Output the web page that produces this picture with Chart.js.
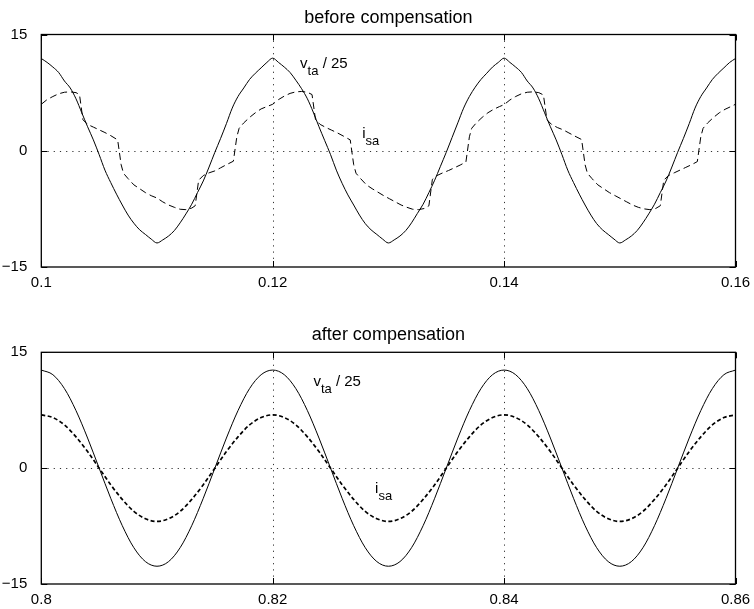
<!DOCTYPE html>
<html>
<head>
<meta charset="utf-8">
<script src="https://cdn.jsdelivr.net/npm/chart.js@4.4.0/dist/chart.umd.min.js"></script>
<style>
  html, body { margin: 0; padding: 0; background: #fff; }
  #wrap { position: relative; width: 754px; height: 609px; }
  canvas { position: absolute; left: 0; }
  #top { top: 0; }
  #bottom { top: 300px; }
</style>
</head>
<body>
<div id="wrap">
  <canvas id="top" width="754" height="300"></canvas>
  <canvas id="bottom" width="754" height="309"></canvas>
</div>
<script>
// ---- before compensation (0.1 .. 0.16 s) ----
const beforeStart = 0.1;
const beforeStep = 0.0005;
// v_ta / 25, one sample every 0.5 ms
const beforeVolt = [
  11.9, 11.4, 10.8, 10.1, 9.0, 8.1, 6.7, 4.9, 3.1, 1.4,
  -0.5, -2.5, -4.1, -5.6, -7.0, -8.3, -9.35, -10.2, -10.8, -11.4,
  -11.9, -11.5, -11.0, -10.3, -9.3, -8.15, -6.9, -5.4, -3.9, -2.1,
  -0.2, 1.6, 3.5, 5.5, 7.0, 8.1, 9.2, 10.0, 10.7, 11.4,
  11.95, 11.4, 10.8, 10.1, 9.1, 8.0, 6.7, 5.0, 3.1, 1.3,
  -0.5, -2.5, -4.2, -5.7, -7.0, -8.3, -9.4, -10.2, -10.8, -11.4,
  -11.9, -11.5, -11.0, -10.3, -9.3, -8.1, -6.9, -5.4, -3.8, -2.0,
  -0.2, 1.7, 3.6, 5.5, 7.0, 8.2, 9.2, 10.0, 10.8, 11.4,
  11.95, 11.4, 10.8, 10.1, 9.0, 8.1, 6.7, 4.9, 3.1, 1.4,
  -0.5, -2.5, -4.1, -5.6, -7.0, -8.3, -9.4, -10.2, -10.8, -11.4,
  -11.9, -11.5, -11.0, -10.3, -9.3, -8.15, -6.9, -5.4, -3.9, -2.1,
  -0.2, 1.6, 3.5, 5.5, 7.0, 8.1, 9.2, 10.0, 10.7, 11.4,
  11.9
];
// i_sa, sampled tighter around the current steps
const beforeCurT = [
  0.1000, 0.1005, 0.1010, 0.1015, 0.1020, 0.1025, 0.1030, 0.1033, 0.1036, 0.1040,
  0.1045, 0.1050, 0.1055, 0.1060, 0.1066, 0.1069, 0.1071, 0.1075, 0.1080, 0.1085,
  0.1090, 0.1095, 0.1100, 0.1105, 0.1110, 0.1115, 0.1120, 0.1125, 0.1130, 0.1133,
  0.1136, 0.1140, 0.1145, 0.1150, 0.1155, 0.1160, 0.1166, 0.1169, 0.1171, 0.1175,
  0.1180, 0.1185, 0.1190, 0.1195,
  0.1200, 0.1205, 0.1210, 0.1215, 0.1220, 0.1225, 0.1230, 0.1234, 0.1237, 0.1241,
  0.1246, 0.1251, 0.1256, 0.1261, 0.1267, 0.1270, 0.1272, 0.1276, 0.1281, 0.1286,
  0.1291, 0.1296, 0.1301, 0.1306, 0.1311, 0.1316, 0.1321, 0.1326, 0.1331, 0.1335,
  0.1338, 0.1342, 0.1347, 0.1352, 0.1357, 0.1362, 0.1367, 0.1370, 0.1372, 0.1376,
  0.1381, 0.1386, 0.1391, 0.1396,
  0.1400, 0.1405, 0.1410, 0.1415, 0.1420, 0.1425, 0.1430, 0.1434, 0.1437, 0.1441,
  0.1446, 0.1451, 0.1456, 0.1461, 0.1467, 0.1470, 0.1472, 0.1476, 0.1481, 0.1486,
  0.1491, 0.1496, 0.1501, 0.1506, 0.1511, 0.1516, 0.1521, 0.1526, 0.1531, 0.1535,
  0.1538, 0.1542, 0.1547, 0.1552, 0.1557, 0.1562, 0.1567, 0.1570, 0.1572, 0.1576,
  0.1581, 0.1586, 0.1591, 0.1596, 0.1600
];
const beforeCur = [
  6.0, 6.6, 7.0, 7.35, 7.55, 7.6, 7.5, 7.25, 4.0, 3.4,
  3.05, 2.7, 2.35, 1.95, 1.4, -1.8, -2.9, -3.6, -4.4, -4.9,
  -5.4, -5.8, -6.1, -6.6, -7.0, -7.3, -7.55, -7.6, -7.4, -7.1,
  -3.8, -3.2, -2.85, -2.6, -2.2, -1.8, -1.35, 1.8, 2.9, 3.6,
  4.3, 4.9, 5.4, 5.7,
  6.0, 6.6, 7.05, 7.4, 7.6, 7.65, 7.55, 7.25, 4.0, 3.4,
  3.0, 2.65, 2.3, 1.9, 1.4, -1.8, -2.9, -3.6, -4.4, -4.9,
  -5.35, -5.8, -6.2, -6.6, -7.0, -7.3, -7.55, -7.6, -7.45, -7.1,
  -3.7, -3.2, -2.85, -2.55, -2.2, -1.85, -1.45, 1.8, 2.9, 3.6,
  4.3, 4.9, 5.35, 5.7,
  5.95, 6.55, 7.0, 7.35, 7.55, 7.6, 7.5, 7.2, 4.0, 3.4,
  3.0, 2.7, 2.3, 1.9, 1.45, -1.8, -2.9, -3.6, -4.4, -4.9,
  -5.4, -5.8, -6.2, -6.6, -7.0, -7.3, -7.5, -7.6, -7.45, -7.1,
  -3.8, -3.2, -2.85, -2.5, -2.15, -1.8, -1.4, 1.8, 2.9, 3.6,
  4.3, 4.9, 5.35, 5.7, 6.0
];
const beforeXTicks = [0.1, 0.12, 0.14, 0.16];
const beforeXLabels = ['0.1', '0.12', '0.14', '0.16'];

// ---- after compensation (0.8 .. 0.86 s) ----
const afterStart = 0.8;
const afterStep = 0.001;
const afterVolt = [
  12.7, 12.1, 10.3, 7.45, 3.9, 0, -3.9, -7.45, -10.3, -12.1,
  -12.7, -12.1, -10.3, -7.45, -3.9, 0, 3.9, 7.45, 10.3, 12.1,
  12.7, 12.1, 10.3, 7.45, 3.9, 0, -3.9, -7.45, -10.3, -12.1,
  -12.7, -12.1, -10.3, -7.45, -3.9, 0, 3.9, 7.45, 10.3, 12.1,
  12.7, 12.1, 10.3, 7.45, 3.9, 0, -3.9, -7.45, -10.3, -12.1,
  -12.7, -12.1, -10.3, -7.45, -3.9, 0, 3.9, 7.45, 10.3, 12.1,
  12.7
];
const afterCur = [
  6.9, 6.55, 5.6, 4.05, 2.15, 0, -2.15, -4.05, -5.6, -6.55,
  -6.9, -6.55, -5.6, -4.05, -2.15, 0, 2.15, 4.05, 5.6, 6.55,
  6.9, 6.55, 5.6, 4.05, 2.15, 0, -2.15, -4.05, -5.6, -6.55,
  -6.9, -6.55, -5.6, -4.05, -2.15, 0, 2.15, 4.05, 5.6, 6.55,
  6.9, 6.55, 5.6, 4.05, 2.15, 0, -2.15, -4.05, -5.6, -6.55,
  -6.9, -6.55, -5.6, -4.05, -2.15, 0, 2.15, 4.05, 5.6, 6.55,
  6.9
];
const afterXTicks = [0.8, 0.82, 0.84, 0.86];
const afterXLabels = ['0.8', '0.82', '0.84', '0.86'];

const yTicks = [-15, 0, 15];
const yLabels = ['\u221215', '0', '15'];

const FONT = '"Liberation Sans", Arial, Helvetica, sans-serif';

// frame, inward ticks, dotted grid, title and curve labels
const framePlugin = {
  id: 'frame',
  beforeDatasetsDraw(chart, args, opts) {
    const { ctx, chartArea: a, scales: { x, y } } = chart;
    ctx.save();
    ctx.strokeStyle = '#333';
    ctx.lineWidth = 1;
    ctx.setLineDash([1.2, 5]);
    ctx.beginPath();
    x.ticks.forEach(t => {
      if (t.value <= x.min || t.value >= x.max) return;
      const px = Math.round(x.getPixelForValue(t.value)) + 0.5;
      ctx.moveTo(px, a.top); ctx.lineTo(px, a.bottom);
    });
    y.ticks.forEach(t => {
      if (t.value <= y.min || t.value >= y.max) return;
      const py = Math.round(y.getPixelForValue(t.value)) + 0.5;
      ctx.moveTo(a.left, py); ctx.lineTo(a.right, py);
    });
    ctx.stroke();
    ctx.restore();
  },
  afterDatasetsDraw(chart, args, opts) {
    const { ctx, chartArea: a, scales: { x, y } } = chart;
    ctx.save();
    ctx.strokeStyle = '#000';
    ctx.lineWidth = 1.3;
    ctx.strokeRect(a.left, a.top, a.right - a.left, a.bottom - a.top);
    ctx.lineWidth = 1;
    ctx.beginPath();
    x.ticks.forEach(t => {
      const px = Math.round(x.getPixelForValue(t.value)) + 0.5;
      ctx.moveTo(px, a.bottom); ctx.lineTo(px, a.bottom - 6);
      ctx.moveTo(px, a.top); ctx.lineTo(px, a.top + 6);
    });
    y.ticks.forEach(t => {
      const py = Math.round(y.getPixelForValue(t.value)) + 0.5;
      ctx.moveTo(a.left, py); ctx.lineTo(a.left + 6, py);
      ctx.moveTo(a.right, py); ctx.lineTo(a.right - 6, py);
    });
    ctx.stroke();

    ctx.fillStyle = '#000';
    ctx.textAlign = 'center';
    ctx.textBaseline = 'middle';
    ctx.font = '18px ' + FONT;
    ctx.fillText(opts.title, (a.left + a.right) / 2, a.top - opts.titleGap);

    ctx.textAlign = 'left';
    ctx.textBaseline = 'alphabetic';
    opts.notes.forEach(n => {
      let px = x.getPixelForValue(n.x);
      const py = y.getPixelForValue(n.y);
      ctx.font = '15px ' + FONT;
      ctx.fillText(n.main, px, py);
      px += ctx.measureText(n.main).width;
      ctx.font = '13px ' + FONT;
      ctx.fillText(n.sub, px, py + 7);
      px += ctx.measureText(n.sub).width;
      if (n.rest) {
        ctx.font = '15px ' + FONT;
        ctx.fillText(n.rest, px, py);
      }
    });
    ctx.restore();
  }
};

function points(times, values) {
  return values.map((v, i) => ({ x: times[i], y: v }));
}

function drawPanel(id, cfg) {
  const voltT = cfg.volt.map((v, i) => cfg.start + cfg.step * i);
  return new Chart(document.getElementById(id), {
    type: 'line',
    data: {
      datasets: [
        {
          data: points(voltT, cfg.volt),
          borderColor: '#000', borderWidth: 1,
          pointRadius: 0, cubicInterpolationMode: 'monotone'
        },
        {
          data: points(cfg.curT, cfg.cur),
          borderColor: '#000', borderWidth: cfg.dashWidth, borderDash: cfg.dash,
          pointRadius: 0, tension: 0, cubicInterpolationMode: cfg.curSmooth ? 'monotone' : 'default'
        }
      ]
    },
    options: {
      responsive: false,
      animation: false,
      layout: { padding: { top: cfg.padTop, right: 18.5, left: 0, bottom: 0 } },
      plugins: {
        legend: { display: false },
        tooltip: { enabled: false },
        frame: { title: cfg.title, titleGap: cfg.titleGap, notes: cfg.notes }
      },
      scales: {
        x: {
          type: 'linear',
          min: cfg.xTicks[0], max: cfg.xTicks[cfg.xTicks.length - 1],
          grid: { display: false },
          border: { display: false },
          afterBuildTicks: s => { s.ticks = cfg.xTicks.map(v => ({ value: v })); },
          afterFit: s => { s.height = cfg.xAxisH; },
          ticks: {
            color: '#000', padding: -1, maxRotation: 0, autoSkip: false,
            font: { family: FONT, size: 15 },
            callback: v => cfg.xLabels[cfg.xTicks.findIndex(t => Math.abs(t - v) < 1e-9)]
          }
        },
        y: {
          min: -15, max: 15,
          grid: { display: false },
          border: { display: false },
          afterBuildTicks: s => { s.ticks = yTicks.map(v => ({ value: v })); },
          afterFit: s => { s.width = 41.3; },
          ticks: {
            color: '#000', padding: 6,
            font: { family: FONT, size: 15 },
            callback: v => yLabels[yTicks.indexOf(v)]
          }
        }
      }
    },
    plugins: [framePlugin]
  });
}

drawPanel('top', {
  title: 'before compensation', titleGap: 16.3,
  start: beforeStart, step: beforeStep, volt: beforeVolt,
  curT: beforeCurT, cur: beforeCur,
  dash: [7, 4], dashWidth: 1, curSmooth: false,
  xTicks: beforeXTicks, xLabels: beforeXLabels,
  padTop: 34.5, xAxisH: 33,
  notes: [
    { x: 0.12237, y: 10.67, main: 'v', sub: 'ta', rest: ' / 25' },
    { x: 0.12773, y: 1.64, main: 'i', sub: 'sa' }
  ]
});

drawPanel('bottom', {
  title: 'after compensation', titleGap: 17.3,
  start: afterStart, step: afterStep, volt: afterVolt,
  curT: afterVolt.map((v, i) => afterStart + afterStep * i), cur: afterCur,
  dash: [4, 2.5], dashWidth: 1.7, curSmooth: true,
  xTicks: afterXTicks, xLabels: afterXLabels,
  padTop: 52.3, xAxisH: 25,
  notes: [
    { x: 0.82352, y: 10.66, main: 'v', sub: 'ta', rest: ' / 25' },
    { x: 0.82885, y: -3.2, main: 'i', sub: 'sa' }
  ]
});
</script>
</body>
</html>
